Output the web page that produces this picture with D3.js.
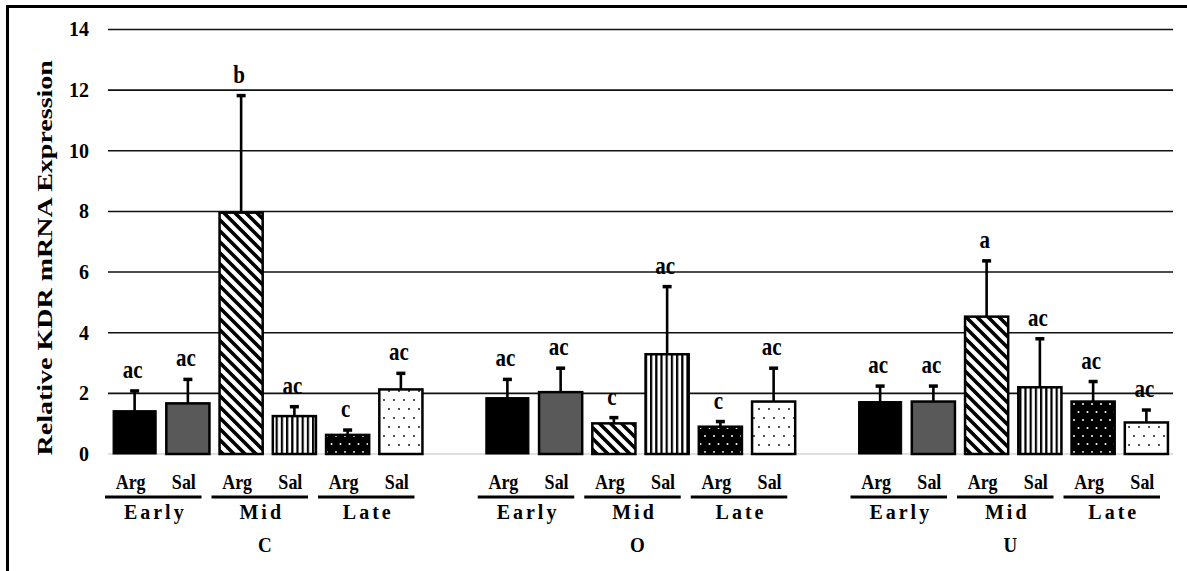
<!DOCTYPE html>
<html>
<head>
<meta charset="utf-8">
<script src="https://cdn.jsdelivr.net/npm/d3@7"></script>
<style>
  body { margin: 0; background: #fff; }
  svg text { font-family: "Liberation Serif", "Times New Roman", serif; font-weight: bold; fill: #000; }
</style>
</head>
<body>
<svg id="chart" width="1187" height="571" font-family="Liberation Serif"></svg>
<script>
// Tissue regions, gestational stages and treatments
const regions = ["C", "O", "U"];
const stages = ["Early", "Mid", "Late"];
const treatments = ["Arg", "Sal"];

// Mean relative expression, ordered Early Arg, Early Sal, Mid Arg, Mid Sal, Late Arg, Late Sal
const meansC = [1.43, 1.67, 7.96, 1.25, 0.63, 2.13];
const meansO = [1.86, 2.04, 1.01, 3.29, 0.90, 1.73];
const meansU = [1.73, 1.73, 4.53, 2.20, 1.73, 1.04];

// Upper error (SEM) for each bar, same order
const errC = [0.65, 0.79, 3.86, 0.31, 0.16, 0.53];
const errO = [0.60, 0.79, 0.19, 2.23, 0.17, 1.10];
const errU = [0.51, 0.51, 1.84, 1.60, 0.66, 0.41];

// Significance letters
const lettersC = ["ac", "ac", "b", "ac", "c", "ac"];
const lettersO = ["ac", "ac", "c", "ac", "c", "ac"];
const lettersU = ["ac", "ac", "a", "ac", "ac", "ac"];

const yTicks = [0, 2, 4, 6, 8, 10, 12, 14];

const means = [meansC, meansO, meansU];
const errs = [errC, errO, errU];
const letters = [lettersC, lettersO, lettersU];
const fills = ["#000", "#595959", "url(#diag)", "url(#vert)", "url(#dotsBlack)", "url(#dotsWhite)"];

const FONT = "'Liberation Serif', 'Times New Roman', serif";
const svg = d3.select("#chart");
const plotLeft = 108, plotRight = 1173, plotTop = 29.5, plotBottom = 454;

// 6 bars per region plus one empty slot between regions
const slotsPerRegion = stages.length * treatments.length;
const nSlots = regions.length * slotsPerRegion + (regions.length - 1);
const x = d3.scaleBand()
  .domain(d3.range(nSlots))
  .range([plotLeft, plotRight])
  .paddingInner(0.19)
  .paddingOuter(0.095);
const y = d3.scaleLinear().domain([0, 14]).range([plotBottom, plotTop]);

const bars = [];
regions.forEach((r, gi) => {
  stages.forEach((s, si) => {
    treatments.forEach((t, ti) => {
      const k = si * 2 + ti;
      bars.push({
        region: r, stage: s, treatment: t, k,
        slot: gi * (slotsPerRegion + 1) + k,
        mean: means[gi][k], err: errs[gi][k], letter: letters[gi][k]
      });
    });
  });
});

// Fill patterns
const defs = svg.append("defs");
const diag = defs.append("pattern").attr("id", "diag").attr("patternUnits", "userSpaceOnUse")
  .attr("width", 11).attr("height", 11);
diag.append("rect").attr("width", 11).attr("height", 11).attr("fill", "#fff");
diag.append("path").attr("d", "M-3,-3L14,14M-3,8L3,14M8,-3L14,3")
  .attr("stroke", "#000").attr("stroke-width", 3.6);

const vert = defs.append("pattern").attr("id", "vert").attr("patternUnits", "userSpaceOnUse")
  .attr("width", 5.2).attr("height", 10);
vert.append("rect").attr("width", 5.2).attr("height", 10).attr("fill", "#fff");
vert.append("rect").attr("width", 2.2).attr("height", 10).attr("fill", "#000");

const dotsB = defs.append("pattern").attr("id", "dotsBlack").attr("patternUnits", "userSpaceOnUse")
  .attr("width", 18).attr("height", 16);
dotsB.append("rect").attr("width", 18).attr("height", 16).attr("fill", "#000");
[[3, 4], [12, 4], [7.5, 12], [16.5, 12]].forEach(([cx, cy]) =>
  dotsB.append("circle").attr("cx", cx).attr("cy", cy).attr("r", 1).attr("fill", "#fff"));

const dotsW = defs.append("pattern").attr("id", "dotsWhite").attr("patternUnits", "userSpaceOnUse")
  .attr("width", 20).attr("height", 18);
dotsW.append("rect").attr("width", 20).attr("height", 18).attr("fill", "#fff");
[[4, 4], [14, 4], [9, 13], [19, 13]].forEach(([cx, cy]) =>
  dotsW.append("circle").attr("cx", cx).attr("cy", cy).attr("r", 0.9).attr("fill", "#000"));

// Frame
svg.append("line").attr("x1", 7.5).attr("x2", 7.5).attr("y1", 5).attr("y2", 571)
  .attr("stroke", "#000").attr("stroke-width", 3);
svg.append("line").attr("x1", 6).attr("x2", 1187).attr("y1", 6.5).attr("y2", 6.5)
  .attr("stroke", "#000").attr("stroke-width", 3);

// Gridlines
svg.append("g").selectAll("line").data(yTicks.filter(d => d > 0)).join("line")
  .attr("x1", plotLeft).attr("x2", plotRight)
  .attr("y1", d => y(d)).attr("y2", d => y(d))
  .attr("stroke", "#111").attr("stroke-width", 1.6);
svg.append("line").attr("x1", plotLeft).attr("x2", plotRight).attr("y1", y(0)).attr("y2", y(0))
  .attr("stroke", "#d4d4d4").attr("stroke-width", 1.5);

// Y axis tick labels
const yAxis = svg.append("g").attr("transform", `translate(${plotLeft},0)`)
  .call(d3.axisLeft(y).tickValues(yTicks).tickSize(0).tickPadding(19).tickFormat(d3.format("d")));
yAxis.attr("font-family", null).attr("font-size", null);
yAxis.select(".domain").remove();
yAxis.selectAll("text").style("font-size", "20px").style("font-family", FONT)
  .style("font-weight", "bold").attr("fill", "#000");

// Y axis title (stretched along its length)
svg.append("text")
  .attr("transform", `translate(52,${(plotTop + plotBottom) / 2 + 16}) rotate(-90) scale(1.4,1)`)
  .attr("text-anchor", "middle").style("font-size", "20px").style("font-family", FONT)
  .text("Relative KDR mRNA Expression");

// Bars
const bw = x.bandwidth();
svg.append("g").selectAll("rect").data(bars).join("rect")
  .attr("x", d => x(d.slot)).attr("width", bw)
  .attr("y", d => y(d.mean)).attr("height", d => y(0) - y(d.mean))
  .attr("fill", d => fills[d.k])
  .attr("stroke", "#000").attr("stroke-width", d => d.k === 0 ? 1 : 2.5);

// Error bars
const eg = svg.append("g").attr("stroke", "#000");
eg.selectAll("line.v").data(bars).join("line").attr("class", "v")
  .attr("x1", d => x(d.slot) + bw / 2).attr("x2", d => x(d.slot) + bw / 2)
  .attr("y1", d => y(d.mean)).attr("y2", d => y(d.mean + d.err))
  .attr("stroke-width", 2.6);
eg.selectAll("line.c").data(bars).join("line").attr("class", "c")
  .attr("x1", d => x(d.slot) + bw / 2 - 4.5).attr("x2", d => x(d.slot) + bw / 2 + 4.5)
  .attr("y1", d => y(d.mean + d.err)).attr("y2", d => y(d.mean + d.err))
  .attr("stroke-width", 3.5);

// Significance letters
svg.append("g").selectAll("text").data(bars).join("text")
  .attr("transform", d => `translate(${x(d.slot) + bw / 2 - 2},${y(d.mean + d.err) - 13}) scale(1,1.15)`)
  .attr("text-anchor", "middle").style("font-size", "21px").style("font-family", FONT)
  .text(d => d.letter);

// Treatment labels
svg.append("g").selectAll("text").data(bars).join("text")
  .attr("transform", d => `translate(${x(d.slot) + bw / 2 - 4},489) scale(1,1.18)`)
  .attr("text-anchor", "middle").style("font-size", "18px").style("font-family", FONT)
  .text(d => d.treatment);

// Stage underlines and labels
const pairs = [];
regions.forEach((r, gi) => stages.forEach((s, si) => {
  const s0 = gi * (slotsPerRegion + 1) + si * 2;
  const x0 = x(s0) - x.step() * x.paddingInner() / 2;
  const x1 = x(s0 + 1) + bw + x.step() * x.paddingInner() / 2;
  pairs.push({ stage: s, x0: x0 - 3, x1: x1 - 13 });
}));
svg.append("g").selectAll("line").data(pairs).join("line")
  .attr("x1", d => d.x0).attr("x2", d => d.x1).attr("y1", 497).attr("y2", 497)
  .attr("stroke", "#000").attr("stroke-width", 3);
svg.append("g").selectAll("text").data(pairs).join("text")
  .attr("transform", d => `translate(${(d.x0 + d.x1) / 2 + 2},519) scale(1,1.08)`)
  .attr("text-anchor", "middle").style("font-size", "20px").style("letter-spacing", "3px")
  .style("font-family", FONT)
  .text(d => d.stage);

// Region labels
svg.append("g").selectAll("text").data(regions).join("text")
  .attr("transform", (r, gi) =>
    `translate(${x(gi * (slotsPerRegion + 1) + 3) - x.step() * x.paddingInner() / 2 - 3},552) scale(1,1.1)`)
  .attr("text-anchor", "middle").style("font-size", "19px").style("font-family", FONT)
  .text(d => d);
</script>
</body>
</html>
